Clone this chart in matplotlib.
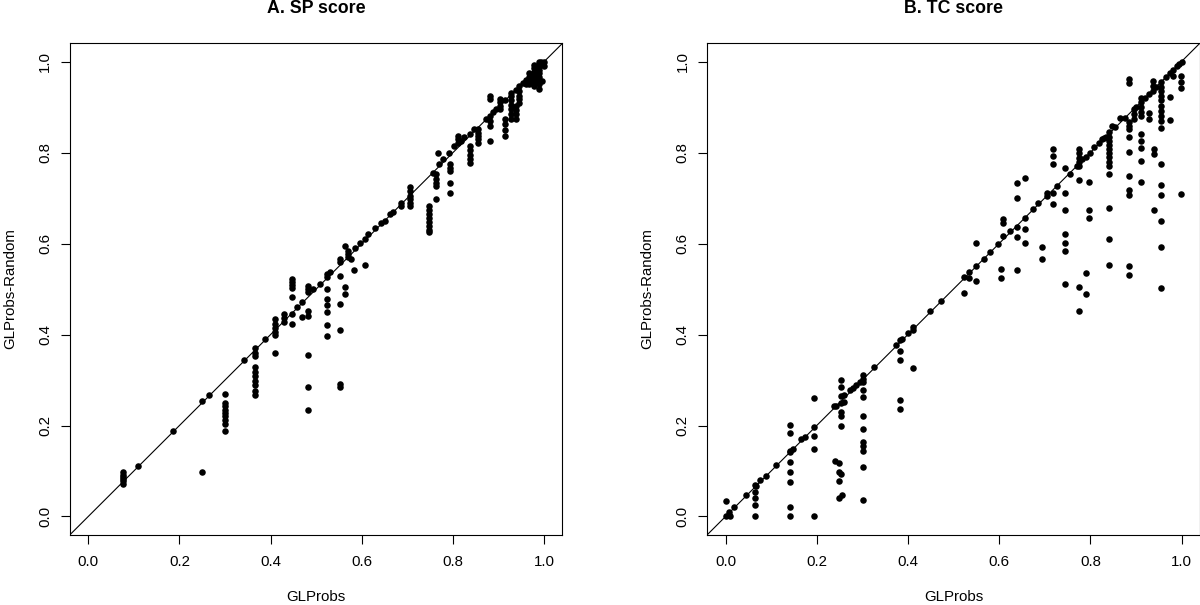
import numpy as np
import matplotlib
matplotlib.use("Agg")
import matplotlib.pyplot as plt

plt.rcParams['font.family'] = ['Liberation Sans', 'DejaVu Sans']

# A. SP score: (GLProbs, GLProbs-Random) pairs
sp_x = [0.077, 0.077, 0.077, 0.077, 0.077, 0.077,
        0.11, 0.185, 0.25, 0.25, 0.265,
        0.30, 0.30, 0.30, 0.30, 0.30, 0.30, 0.30, 0.30, 0.30,
        0.342,
        0.365, 0.365, 0.365, 0.365, 0.365, 0.365, 0.365, 0.365, 0.365, 0.365,
        0.387,
        0.41, 0.41, 0.41, 0.41, 0.41, 0.41,
        0.43, 0.43, 0.43,
        0.446, 0.446, 0.446, 0.446, 0.446, 0.446, 0.446,
        0.457, 0.468, 0.468,
        0.482, 0.482, 0.482, 0.482, 0.482, 0.482, 0.482, 0.482,
        0.493, 0.508,
        0.524, 0.524, 0.524, 0.524, 0.524, 0.524, 0.524, 0.524,
        0.53,
        0.553, 0.553, 0.553, 0.553, 0.553, 0.553, 0.553,
        0.562, 0.562, 0.562, 0.57, 0.57, 0.57,
        0.577, 0.582, 0.584, 0.597, 0.606, 0.606, 0.613, 0.628, 0.643, 0.65, 0.661, 0.668,
        0.686, 0.686,
        0.705, 0.705, 0.705, 0.705, 0.705, 0.705,
        0.747, 0.747, 0.747, 0.747, 0.747, 0.747, 0.747, 0.747,
        0.756, 0.763, 0.763, 0.763, 0.763, 0.763,
        0.767, 0.769, 0.777, 0.792,
        0.794, 0.794, 0.794, 0.794, 0.794,
        0.803, 0.81, 0.81, 0.81, 0.817, 0.825, 0.837,
        0.837, 0.837, 0.837, 0.837, 0.837,
        0.847,
        0.854, 0.854, 0.854, 0.854, 0.854,
        0.872, 0.88, 0.88, 0.88, 0.88, 0.88, 0.88,
        0.888, 0.895,
        0.902, 0.902, 0.902, 0.902,
        0.915, 0.915, 0.915, 0.915, 0.915,
        0.927, 0.927, 0.927, 0.927, 0.927, 0.927, 0.927,
        0.938, 0.938, 0.938, 0.938, 0.938,
        0.945, 0.945, 0.945, 0.945, 0.945,
        0.953, 0.96, 0.96,
        0.967, 0.967, 0.967, 0.967,
        0.978, 0.978, 0.978, 0.978, 0.978, 0.978, 0.978,
        0.989, 0.989, 0.989, 0.989, 0.989, 0.989, 0.989, 0.989,
        0.996, 0.993, 1.0, 1.0]
sp_y = [0.072, 0.077, 0.082, 0.087, 0.092, 0.097,
        0.112, 0.187, 0.097, 0.253, 0.268,
        0.269, 0.250, 0.242, 0.235, 0.228, 0.220, 0.212, 0.204, 0.189,
        0.344,
        0.370, 0.360, 0.352, 0.328, 0.318, 0.308, 0.298, 0.288, 0.276, 0.266,
        0.390,
        0.434, 0.424, 0.415, 0.405, 0.398, 0.360,
        0.445, 0.436, 0.427,
        0.522, 0.515, 0.508, 0.502, 0.482, 0.445, 0.422,
        0.460, 0.471, 0.438,
        0.507, 0.500, 0.493, 0.452, 0.441, 0.354, 0.284, 0.235,
        0.500, 0.511,
        0.533, 0.526, 0.500, 0.478, 0.465, 0.450, 0.421, 0.396,
        0.537,
        0.566, 0.559, 0.529, 0.467, 0.409, 0.292, 0.285,
        0.595, 0.504, 0.490, 0.584, 0.577, 0.570,
        0.566, 0.542, 0.591, 0.602, 0.611, 0.553, 0.620, 0.633, 0.645, 0.650, 0.664, 0.670,
        0.690, 0.683,
        0.725, 0.715, 0.705, 0.697, 0.689, 0.682,
        0.683, 0.674, 0.665, 0.656, 0.647, 0.638, 0.630, 0.625,
        0.756, 0.752, 0.741, 0.734, 0.727, 0.697,
        0.800, 0.774, 0.785, 0.800,
        0.774, 0.767, 0.760, 0.734, 0.712,
        0.814, 0.836, 0.829, 0.822, 0.825, 0.833, 0.840,
        0.814, 0.805, 0.795, 0.786, 0.778,
        0.851,
        0.851, 0.843, 0.836, 0.829, 0.822,
        0.873, 0.924, 0.917, 0.880, 0.870, 0.858, 0.825,
        0.888, 0.895,
        0.917, 0.910, 0.902, 0.895,
        0.915, 0.873, 0.862, 0.850, 0.836,
        0.931, 0.925, 0.915, 0.905, 0.895, 0.885, 0.873,
        0.938, 0.902, 0.893, 0.884, 0.873,
        0.946, 0.935, 0.925, 0.917, 0.909,
        0.953, 0.960, 0.950,
        0.975, 0.967, 0.960, 0.950,
        0.993, 0.985, 0.978, 0.970, 0.962, 0.954, 0.946,
        1.000, 0.990, 0.982, 0.975, 0.967, 0.958, 0.950, 0.940,
        0.957, 1.000, 1.000, 0.990]

# B. TC score
tc_x = [0.0, 0.0, 0.007, 0.007, 0.01, 0.018, 0.044,
        0.064, 0.064, 0.064, 0.064, 0.064,
        0.066, 0.076, 0.088, 0.111,
        0.141, 0.141, 0.141, 0.141, 0.141, 0.141, 0.141, 0.141, 0.141,
        0.148, 0.166, 0.174,
        0.193, 0.193, 0.193, 0.193, 0.193,
        0.237, 0.243,
        0.24, 0.249, 0.254, 0.249, 0.249, 0.249, 0.256,
        0.254, 0.254, 0.254, 0.254, 0.254, 0.254, 0.254,
        0.259, 0.259, 0.273, 0.28, 0.287, 0.294,
        0.302, 0.302, 0.302, 0.302, 0.302, 0.302, 0.302, 0.302, 0.302, 0.302, 0.302, 0.302,
        0.326, 0.374, 0.382,
        0.382, 0.382, 0.382, 0.382,
        0.388, 0.401, 0.41, 0.41, 0.412, 0.448, 0.472,
        0.522, 0.522, 0.533, 0.533,
        0.549, 0.549, 0.549, 0.566, 0.579, 0.598,
        0.604, 0.604,
        0.609, 0.609, 0.609,
        0.624, 0.639, 0.639, 0.639, 0.639, 0.639,
        0.657, 0.657, 0.657, 0.657,
        0.674, 0.686, 0.695, 0.695,
        0.705, 0.705, 0.719, 0.719, 0.719, 0.719, 0.719,
        0.727, 0.745, 0.745, 0.745, 0.745, 0.745, 0.745, 0.745, 0.756,
        0.776, 0.776, 0.776, 0.776, 0.776, 0.776, 0.776, 0.776,
        0.782, 0.791, 0.791, 0.796, 0.796, 0.796,
        0.809, 0.826, 0.829,
        0.842, 0.842, 0.842, 0.842, 0.842, 0.842, 0.842, 0.842, 0.842, 0.842, 0.842, 0.842, 0.842,
        0.848, 0.866,
        0.884, 0.884, 0.884, 0.884, 0.884, 0.884, 0.884, 0.884, 0.884, 0.884, 0.884, 0.884,
        0.895, 0.895, 0.895,
        0.91, 0.91, 0.91, 0.91, 0.91, 0.91, 0.91, 0.91, 0.91, 0.91,
        0.928, 0.928, 0.928,
        0.937, 0.937, 0.937,
        0.939, 0.939, 0.939,
        0.955, 0.955, 0.955, 0.955, 0.955, 0.955, 0.955, 0.955,
        0.955, 0.955, 0.955, 0.955, 0.955, 0.955, 0.955, 0.955,
        0.965, 0.974, 0.974, 0.974, 0.982, 0.982,
        0.999, 0.999, 0.999, 0.999, 1.0, 0.995, 0.99,
        0.77, 0.79, 0.80, 0.82, 0.835, 0.855, 0.875, 0.90, 0.92, 0.945]
tc_y = [0.0, 0.035, 0.010, 0.003, 0.0, 0.021, 0.047,
        0.069, 0.054, 0.041, 0.025, 0.0,
        0.066, 0.080, 0.090, 0.114,
        0.202, 0.183, 0.145, 0.142, 0.120, 0.098, 0.075, 0.021, 0.0,
        0.149, 0.171, 0.175,
        0.260, 0.197, 0.178, 0.148, 0.0,
        0.243, 0.243,
        0.123, 0.118, 0.093, 0.098, 0.078, 0.041, 0.047,
        0.300, 0.285, 0.265, 0.250, 0.230, 0.220, 0.200,
        0.266, 0.252, 0.277, 0.283, 0.290, 0.295,
        0.310, 0.302, 0.295, 0.277, 0.262, 0.220, 0.193, 0.164, 0.156, 0.143, 0.109, 0.037,
        0.328, 0.377, 0.387,
        0.363, 0.343, 0.257, 0.237,
        0.390, 0.403, 0.326, 0.410, 0.416, 0.452, 0.474,
        0.491, 0.526, 0.537, 0.524,
        0.518, 0.551, 0.602, 0.567, 0.582, 0.600,
        0.544, 0.524,
        0.653, 0.646, 0.617,
        0.628, 0.636, 0.614, 0.542, 0.732, 0.699,
        0.745, 0.657, 0.631, 0.602,
        0.675, 0.689, 0.592, 0.565,
        0.712, 0.705, 0.712, 0.686, 0.808, 0.792, 0.774,
        0.726, 0.767, 0.712, 0.674, 0.620, 0.602, 0.584, 0.511, 0.752,
        0.807, 0.798, 0.789, 0.780, 0.771, 0.739, 0.504, 0.452,
        0.786, 0.536, 0.489, 0.736, 0.674, 0.655,
        0.813, 0.829, 0.832,
        0.844, 0.835, 0.826, 0.817, 0.808, 0.799, 0.790, 0.780, 0.770, 0.752, 0.679, 0.611, 0.553,
        0.858, 0.876,
        0.961, 0.953, 0.866, 0.858, 0.851, 0.835, 0.801, 0.748, 0.718, 0.706, 0.550, 0.530,
        0.895, 0.884, 0.873,
        0.920, 0.910, 0.900, 0.890, 0.880, 0.840, 0.825, 0.810, 0.781, 0.736,
        0.928, 0.887, 0.873,
        0.957, 0.946, 0.935,
        0.808, 0.796, 0.674,
        0.955, 0.945, 0.935, 0.925, 0.915, 0.902, 0.891, 0.880,
        0.870, 0.854, 0.774, 0.729, 0.707, 0.650, 0.593, 0.502,
        0.965, 0.974, 0.922, 0.871, 0.982, 0.968,
        0.708, 0.968, 0.955, 0.942, 1.0, 0.995, 0.990,
        0.77, 0.79, 0.80, 0.82, 0.835, 0.855, 0.875, 0.90, 0.92, 0.945]

panels = [("A. SP score", sp_x, sp_y), ("B. TC score", tc_x, tc_y)]
ticks = [0.0, 0.2, 0.4, 0.6, 0.8, 1.0]

fig = plt.figure(figsize=(12, 6.05), dpi=100)
lefts = [70 / 1200, 707.3 / 1200]

for (title, xs, ys), left in zip(panels, lefts):
    ax = fig.add_axes([left, 0.1162, 0.4104, 0.8122])
    ax.plot(xs, ys, 'o', color='black', ms=4.7, mew=0)
    ax.axline((0, 0), slope=1, color='black', lw=0.8)
    ax.set_xlim(-0.04, 1.04)
    ax.set_ylim(-0.04, 1.04)
    ax.set_xticks(ticks)
    ax.set_yticks(ticks)
    ax.set_xticklabels(["%.1f" % t for t in ticks])
    ax.set_yticklabels(["%.1f" % t for t in ticks], rotation=90, va='center')
    ax.tick_params(direction='out', length=6.7, width=0.8, labelsize=10.8, pad=8)
    ax.tick_params(axis='y', pad=6)
    for s in ax.spines.values():
        s.set_linewidth(0.8)
    ax.text(0.5, 1.07, title, transform=ax.transAxes, ha='center', va='center',
            fontsize=12.8, fontweight='bold')
    ax.text(0.5, -0.127, "GLProbs", transform=ax.transAxes, ha='center', va='center',
            fontsize=10.8)
    ax.text(-0.122, 0.5, "GLProbs-Random", transform=ax.transAxes, ha='center', va='center',
            rotation=90, fontsize=10.8)

fig.savefig("out.png", dpi=100)
